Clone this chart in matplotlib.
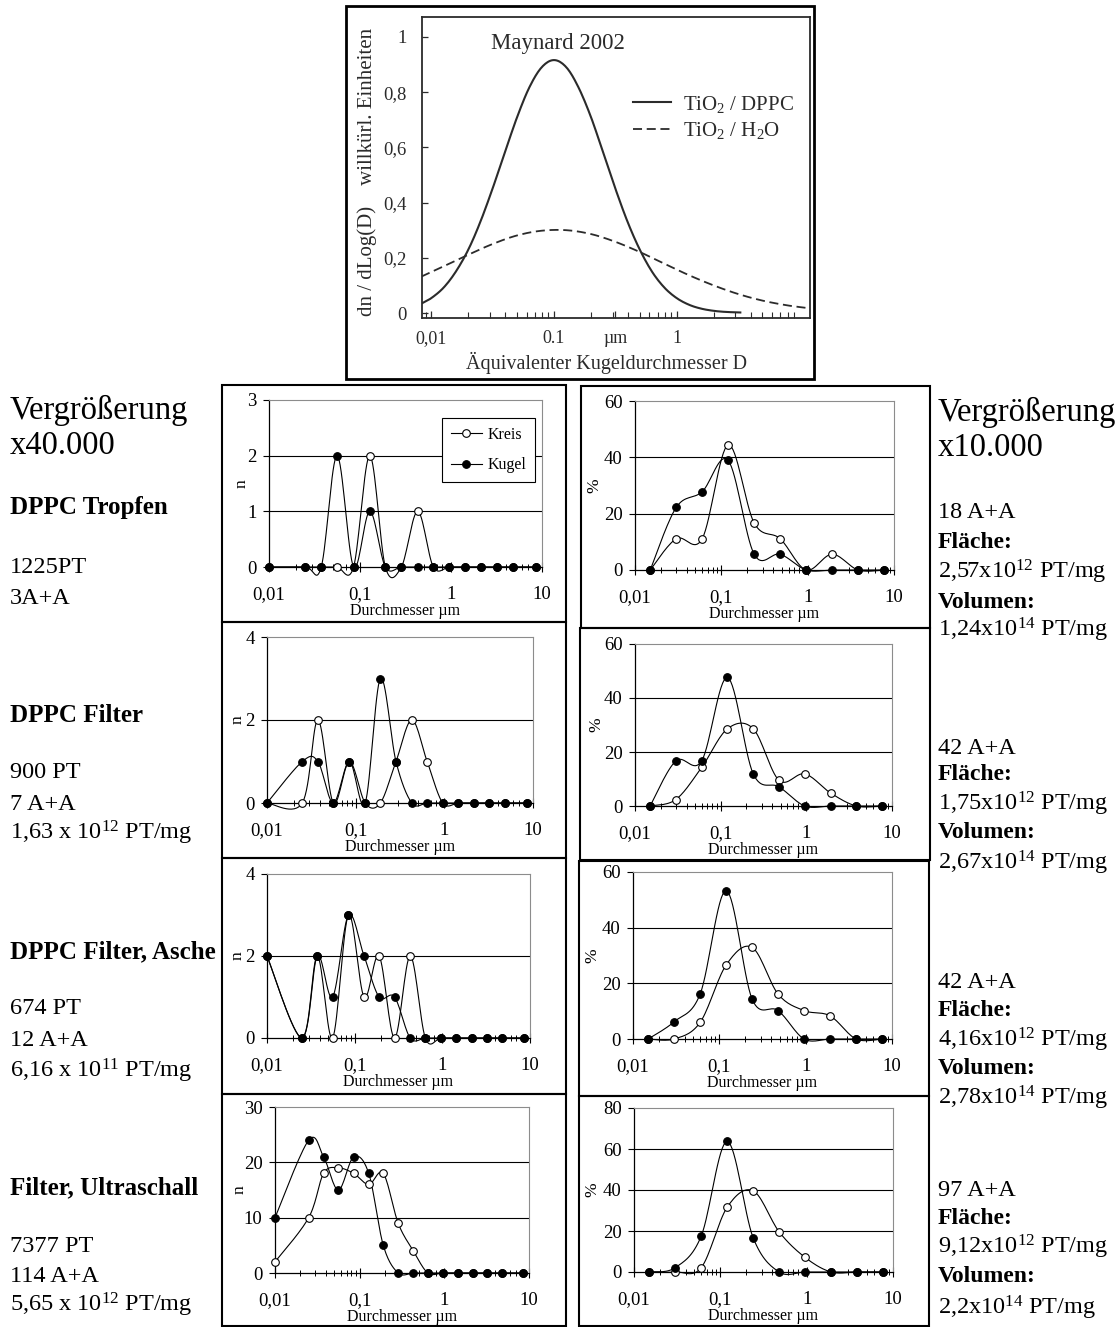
import numpy as np
import matplotlib
matplotlib.use('Agg')
import matplotlib.pyplot as plt
from matplotlib.patches import Rectangle
from matplotlib.lines import Line2D
from matplotlib.ticker import LogLocator, NullFormatter

plt.rcParams['font.family'] = ['Liberation Serif', 'DejaVu Serif']
plt.rcParams['mathtext.fontset'] = 'custom'
plt.rcParams['mathtext.rm'] = 'Liberation Serif'
plt.rcParams['mathtext.it'] = 'Liberation Serif:italic'
plt.rcParams['mathtext.bf'] = 'Liberation Serif:bold'

# ---------------- data ----------------
# Top chart (Maynard 2002)
top_x_solid = [0.0083, 0.01, 0.0126, 0.0158, 0.02, 0.0251, 0.0316, 0.0398, 0.0501,
               0.0631, 0.0794, 0.1, 0.126, 0.158, 0.2, 0.251, 0.316, 0.398, 0.501,
               0.631, 0.794, 1.0, 1.26, 1.58, 2.0, 2.51, 3.3]
top_y_solid = [0.034, 0.054, 0.092, 0.149, 0.229, 0.330, 0.451, 0.582, 0.710,
               0.818, 0.890, 0.916, 0.890, 0.818, 0.710, 0.582, 0.451, 0.330, 0.229,
               0.149, 0.092, 0.054, 0.030, 0.016, 0.008, 0.004, 0.002]
top_x_dash = [0.0083, 0.0126, 0.02, 0.0316, 0.05, 0.079, 0.126, 0.2, 0.316, 0.5,
              0.79, 1.26, 2.0, 3.16, 5.0, 7.9, 12.2]
top_y_dash = [0.132, 0.169, 0.211, 0.250, 0.281, 0.298, 0.300, 0.286, 0.258, 0.221,
              0.179, 0.137, 0.100, 0.069, 0.045, 0.028, 0.017]
top_legend = ['$\\mathregular{TiO_2}$ / DPPC', '$\\mathregular{TiO_2}$ / $\\mathregular{H_2O}$']

# Left column (n) diameter classes
x_n = [0.01, 0.025, 0.0375, 0.056, 0.085, 0.128, 0.19, 0.285, 0.43, 0.64,
       0.96, 1.44, 2.16, 3.2, 4.8, 8.5]
# Right column (%) diameter classes
x_pct = [0.015, 0.03, 0.06, 0.12, 0.24, 0.48, 0.96, 1.92, 3.84, 7.68]

r1_n_kreis = [0, 0, 0, 0, 0, 2, 0, 0, 1, 0, 0, 0, 0, 0, 0, 0]
r1_n_kugel = [0, 0, 0, 2, 0, 1, 0, 0, 0, 0, 0, 0, 0, 0, 0, 0]
r2_n_kreis = [0, 0, 2, 0, 1, 0, 0, 1, 2, 1, 0, 0, 0, 0, 0, 0]
r2_n_kugel = [0, 1, 1, 0, 1, 0, 3, 1, 0, 0, 0, 0, 0, 0, 0, 0]
r3_n_kreis = [2, 0, 2, 0, 3, 1, 2, 0, 2, 0, 0, 0, 0, 0, 0, 0]
r3_n_kugel = [2, 0, 2, 1, 3, 2, 1, 1, 0, 0, 0, 0, 0, 0, 0, 0]
r4_n_kreis = [2, 10, 18, 19, 18, 16, 18, 9, 4, 0, 0, 0, 0, 0, 0, 0]
r4_n_kugel = [10, 24, 21, 15, 21, 18, 5, 0, 0, 0, 0, 0, 0, 0, 0, 0]

r1_p_kreis = [0, 11.1, 11.1, 44.4, 16.7, 11.1, 0, 5.6, 0, 0]
r1_p_kugel = [0, 22.2, 27.8, 38.9, 5.6, 5.6, 0, 0, 0, 0]
r2_p_kreis = [0, 2.4, 14.3, 28.6, 28.6, 9.5, 11.9, 4.8, 0, 0]
r2_p_kugel = [0, 16.7, 16.7, 47.6, 11.9, 7.1, 0, 0, 0, 0]
r3_p_kreis = [0, 0, 6.0, 26.6, 32.9, 16.1, 10.2, 8.3, 0, 0]
r3_p_kugel = [0, 6.2, 16.2, 53.3, 14.3, 10.2, 0, 0, 0, 0]
r4_p_kreis = [0, 0, 2.1, 31.6, 39.6, 19.6, 7.1, 0, 0, 0]
r4_p_kugel = [0, 2.1, 17.5, 63.7, 16.7, 0, 0, 0, 0, 0]

n_ymax = [3, 4, 4, 30]
n_ystep = [1, 2, 2, 10]
p_ymax = [60, 60, 60, 80]
p_ystep = [20, 20, 20, 20]

left_texts = [
    (410, 'Vergrößerung', 23.5, 'normal'),
    (446, 'x40.000', 23.5, 'normal'),
    (508, 'DPPC Tropfen', 18, 'bold'),
    (568, '1225PT', 17.5, 'normal'),
    (599, '3A+A', 17.5, 'normal'),
    (715, 'DPPC Filter', 18, 'bold'),
    (773, '900 PT', 17.5, 'normal'),
    (805, '7 A+A', 17.5, 'normal'),
    (833, '1,63 x 10$^{\\mathregular{12}}$ PT/mg', 17.5, 'normal'),
    (952, 'DPPC Filter, Asche', 18, 'bold'),
    (1008, '674 PT', 17.5, 'normal'),
    (1041, '12 A+A', 17.5, 'normal'),
    (1071, '6,16 x 10$^{\\mathregular{11}}$ PT/mg', 17.5, 'normal'),
    (1188, 'Filter, Ultraschall', 18, 'bold'),
    (1247, '7377 PT', 17.5, 'normal'),
    (1277, '114 A+A', 17.5, 'normal'),
    (1305, '5,65 x 10$^{\\mathregular{12}}$ PT/mg', 17.5, 'normal'),
]
right_texts = [
    (412, 'Vergrößerung', 23.5, 'normal'),
    (448, 'x10.000', 23.5, 'normal'),
    (512, '18 A+A', 17.5, 'normal'),
    (543, 'Fläche:', 17, 'bold'),
    (572, '2,57x10$^{\\mathregular{12}}$ PT/mg', 17.5, 'normal'),
    (602, 'Volumen:', 17, 'bold'),
    (630, '1,24x10$^{\\mathregular{14}}$ PT/mg', 17.5, 'normal'),
    (748, '42 A+A', 17.5, 'normal'),
    (775, 'Fläche:', 17, 'bold'),
    (804, '1,75x10$^{\\mathregular{12}}$ PT/mg', 17.5, 'normal'),
    (833, 'Volumen:', 17, 'bold'),
    (863, '2,67x10$^{\\mathregular{14}}$ PT/mg', 17.5, 'normal'),
    (982, '42 A+A', 17.5, 'normal'),
    (1010, 'Fläche:', 17, 'bold'),
    (1040, '4,16x10$^{\\mathregular{12}}$ PT/mg', 17.5, 'normal'),
    (1068, 'Volumen:', 17, 'bold'),
    (1098, '2,78x10$^{\\mathregular{14}}$ PT/mg', 17.5, 'normal'),
    (1190, '97 A+A', 17.5, 'normal'),
    (1218, 'Fläche:', 17, 'bold'),
    (1247, '9,12x10$^{\\mathregular{12}}$ PT/mg', 17.5, 'normal'),
    (1277, 'Volumen:', 17, 'bold'),
    (1308, '2,2x10$^{\\mathregular{14}}$ PT/mg', 17.5, 'normal'),
]

# ---------------- layout helpers ----------------
W, H = 1119, 1327
fig = plt.figure(figsize=(W / 100, H / 100), dpi=100)


def axes_px(l, t, r, b):
    return fig.add_axes([l / W, 1 - b / H, (r - l) / W, (b - t) / H])


def box_px(l, t, r, b, lw=1.5):
    fig.patches.append(Rectangle((l / W, 1 - b / H), (r - l) / W, (b - t) / H,
                                 transform=fig.transFigure, fill=False, lw=lw,
                                 ec='black', zorder=10))


def smooth(x, y, n=16):
    """Excel-like smoothed line (Bezier with 1/6 neighbour tangents) in log-x."""
    P = np.column_stack([np.log10(np.asarray(x, float)), np.asarray(y, float)])
    m = len(P)
    t = np.linspace(0, 1, n + 1)[1:]
    out = [P[0]]
    for i in range(m - 1):
        p0 = P[i - 1] if i > 0 else P[i]
        p1, p2 = P[i], P[i + 1]
        p3 = P[i + 2] if i + 2 < m else P[i + 1]
        c1 = p1 + (p2 - p0) / 6.0
        c2 = p2 - (p3 - p1) / 6.0
        seg = (((1 - t) ** 3)[:, None] * p1 + (3 * (1 - t) ** 2 * t)[:, None] * c1
               + (3 * (1 - t) * t ** 2)[:, None] * c2 + (t ** 3)[:, None] * p2)
        out.extend(seg)
    out = np.array(out)
    return 10 ** out[:, 0], out[:, 1]


def panel(l, t, r, b, x, kreis, kugel, ymax, ystep, ylabel, ylab_px, legend=False):
    ax = axes_px(l, t, r, b)
    ax.set_xscale('log')
    ax.set_xlim(0.01, 10)
    ax.set_ylim(0, ymax)
    for v in np.arange(ystep, ymax, ystep):
        ax.axhline(v, color='black', lw=0.8, zorder=0)
    for ser, filled in ((kreis, False), (kugel, True)):
        xs, ys = smooth(x, ser)
        ax.plot(xs, ys, color='black', lw=0.8, clip_on=False, zorder=3)
        ax.plot(x, ser, ls='none', marker='o', ms=5.5,
                mfc='black' if filled else 'white', mec='black', mew=0.8,
                clip_on=False, zorder=4)
    ax.set_xticks([0.01, 0.1, 1, 10])
    ax.set_xticklabels(['0,01', '0,1', '1', '10'])
    ax.xaxis.set_minor_locator(LogLocator(base=10, subs=np.arange(2, 10)))
    ax.xaxis.set_minor_formatter(NullFormatter())
    ax.set_yticks(np.arange(0, ymax + 0.001, ystep))
    ax.tick_params(axis='x', which='major', direction='inout', length=7, width=0.8,
                   pad=10, labelsize=13.5)
    ax.tick_params(axis='x', which='minor', direction='inout', length=4, width=0.7)
    ax.tick_params(axis='y', direction='out', length=4, width=0.8, pad=5, labelsize=13.5)
    for s in ('left', 'bottom'):
        ax.spines[s].set_color('black')
        ax.spines[s].set_linewidth(0.9)
    for s in ('top', 'right'):
        ax.spines[s].set_color('#8c8c8c')
        ax.spines[s].set_linewidth(0.8)
    ax.set_xlabel('Durchmesser µm', fontsize=11.5)
    ax.xaxis.set_label_coords(0.5, -44.0 / (b - t))
    ax.xaxis.label.set_va('center')
    ax.set_ylabel(ylabel, fontsize=12.5)
    ax.yaxis.set_label_coords((ylab_px - l) / (r - l), 0.5)
    ax.yaxis.label.set_va('center')
    if legend:
        h = [Line2D([], [], color='black', lw=0.8, marker='o', ms=5.5, mfc='white',
                    mec='black', mew=0.8),
             Line2D([], [], color='black', lw=0.8, marker='o', ms=5.5, mfc='black',
                    mec='black', mew=0.8)]
        leg = ax.legend(h, ['Kreis', 'Kugel'], loc='upper right',
                        bbox_to_anchor=(0.974, 0.892), borderaxespad=0,
                        fancybox=False, edgecolor='black', framealpha=1,
                        fontsize=11.5, handlelength=2.0, labelspacing=0.9,
                        borderpad=0.55, handletextpad=0.3)
        leg.get_frame().set_linewidth(0.8)
    return ax


# ---------------- top chart ----------------
tc = '#2b2b2b'
box_px(346, 6, 814, 379, lw=2)
axT = axes_px(422, 17, 810, 318)
axT.set_xscale('log')
axT.set_xlim(0.0084, 12.2)
axT.set_ylim(-0.018, 1.072)
xs, ys = smooth(top_x_solid, top_y_solid, n=10)
axT.plot(xs, ys, color=tc, lw=1.5, label=top_legend[0])
xs, ys = smooth(top_x_dash, top_y_dash, n=10)
axT.plot(xs, ys, color=tc, lw=1.3, ls=(0, (5, 2.6)), label=top_legend[1])
axT.set_xticks([0.01, 0.1, 0.316, 1])
axT.set_xticklabels(['0,01', '0.1', 'µm', '1'])
axT.xaxis.set_minor_locator(LogLocator(base=10, subs=np.arange(2, 10)))
axT.xaxis.set_minor_formatter(NullFormatter())
axT.set_yticks([0, 0.2, 0.4, 0.6, 0.8, 1.0])
axT.set_yticklabels(['0', '0,2', '0,4', '0,6', '0,8', '1'])
axT.tick_params(axis='x', which='major', direction='in', length=5, width=0.9,
                pad=9, labelsize=13, colors=tc)
axT.tick_params(axis='x', which='minor', direction='in', length=4, width=0.8, colors=tc)
axT.tick_params(axis='y', direction='in', length=4, width=0.9, pad=11,
                labelsize=13.5, colors=tc)
for s in axT.spines.values():
    s.set_color(tc)
    s.set_linewidth(1.3)
axT.set_ylabel('dn / dLog(D)    willkürl. Einheiten', fontsize=15, color=tc)
axT.yaxis.set_label_coords((367 - 422) / 388.0, (318 - 171.5) / 301.0)
axT.yaxis.label.set_va('center')
axT.set_xlabel('Äquivalenter Kugeldurchmesser D', fontsize=14.5, color=tc)
axT.xaxis.set_label_coords((607 - 422) / 388.0, -(363 - 318) / 301.0)
axT.xaxis.label.set_va('center')
legT = axT.legend(loc='upper left', bbox_to_anchor=(0.545, 0.745), borderaxespad=0,
                  frameon=False, fontsize=15, handlelength=1.8, handletextpad=0.6,
                  labelspacing=0.25, borderpad=0)
for txt in legT.get_texts():
    txt.set_color(tc)
fig.text(558 / W, 1 - 43 / H, 'Maynard 2002', ha='center', va='center',
         fontsize=16.5, color=tc)

# ---------------- small panels ----------------
box_px(222, 385, 566, 622)
box_px(581, 386, 930, 628)
box_px(222, 622, 566, 858)
box_px(580, 628, 930, 860)
box_px(222, 858, 566, 1094)
box_px(579, 861, 929, 1096)
box_px(222, 1094, 566, 1326)
box_px(579, 1096, 929, 1326)

panel(269, 400, 542, 567, x_n, r1_n_kreis, r1_n_kugel, n_ymax[0], n_ystep[0], 'n', 242, legend=True)
panel(635, 401, 894, 570, x_pct, r1_p_kreis, r1_p_kugel, p_ymax[0], p_ystep[0], '%', 594)
panel(267, 637, 533, 803, x_n, r2_n_kreis, r2_n_kugel, n_ymax[1], n_ystep[1], 'n', 238)
panel(635, 644, 892, 806, x_pct, r2_p_kreis, r2_p_kugel, p_ymax[1], p_ystep[1], '%', 596)
panel(267, 874, 530, 1038, x_n, r3_n_kreis, r3_n_kugel, n_ymax[2], n_ystep[2], 'n', 238)
panel(633, 872, 892, 1039, x_pct, r3_p_kreis, r3_p_kugel, p_ymax[2], p_ystep[2], '%', 592)
panel(275, 1107, 529, 1273, x_n, r4_n_kreis, r4_n_kugel, n_ymax[3], n_ystep[3], 'n', 240)
panel(634, 1108, 893, 1272, x_pct, r4_p_kreis, r4_p_kugel, p_ymax[3], p_ystep[3], '%', 592)

# ---------------- side texts ----------------
for y, s, fs, wt in left_texts:
    fig.text(10 / W, 1 - y / H, s, ha='left', va='center', fontsize=fs, fontweight=wt)
for y, s, fs, wt in right_texts:
    fig.text(938 / W, 1 - y / H, s, ha='left', va='center', fontsize=fs, fontweight=wt)

fig.savefig('out.png', dpi=100, facecolor='white')
